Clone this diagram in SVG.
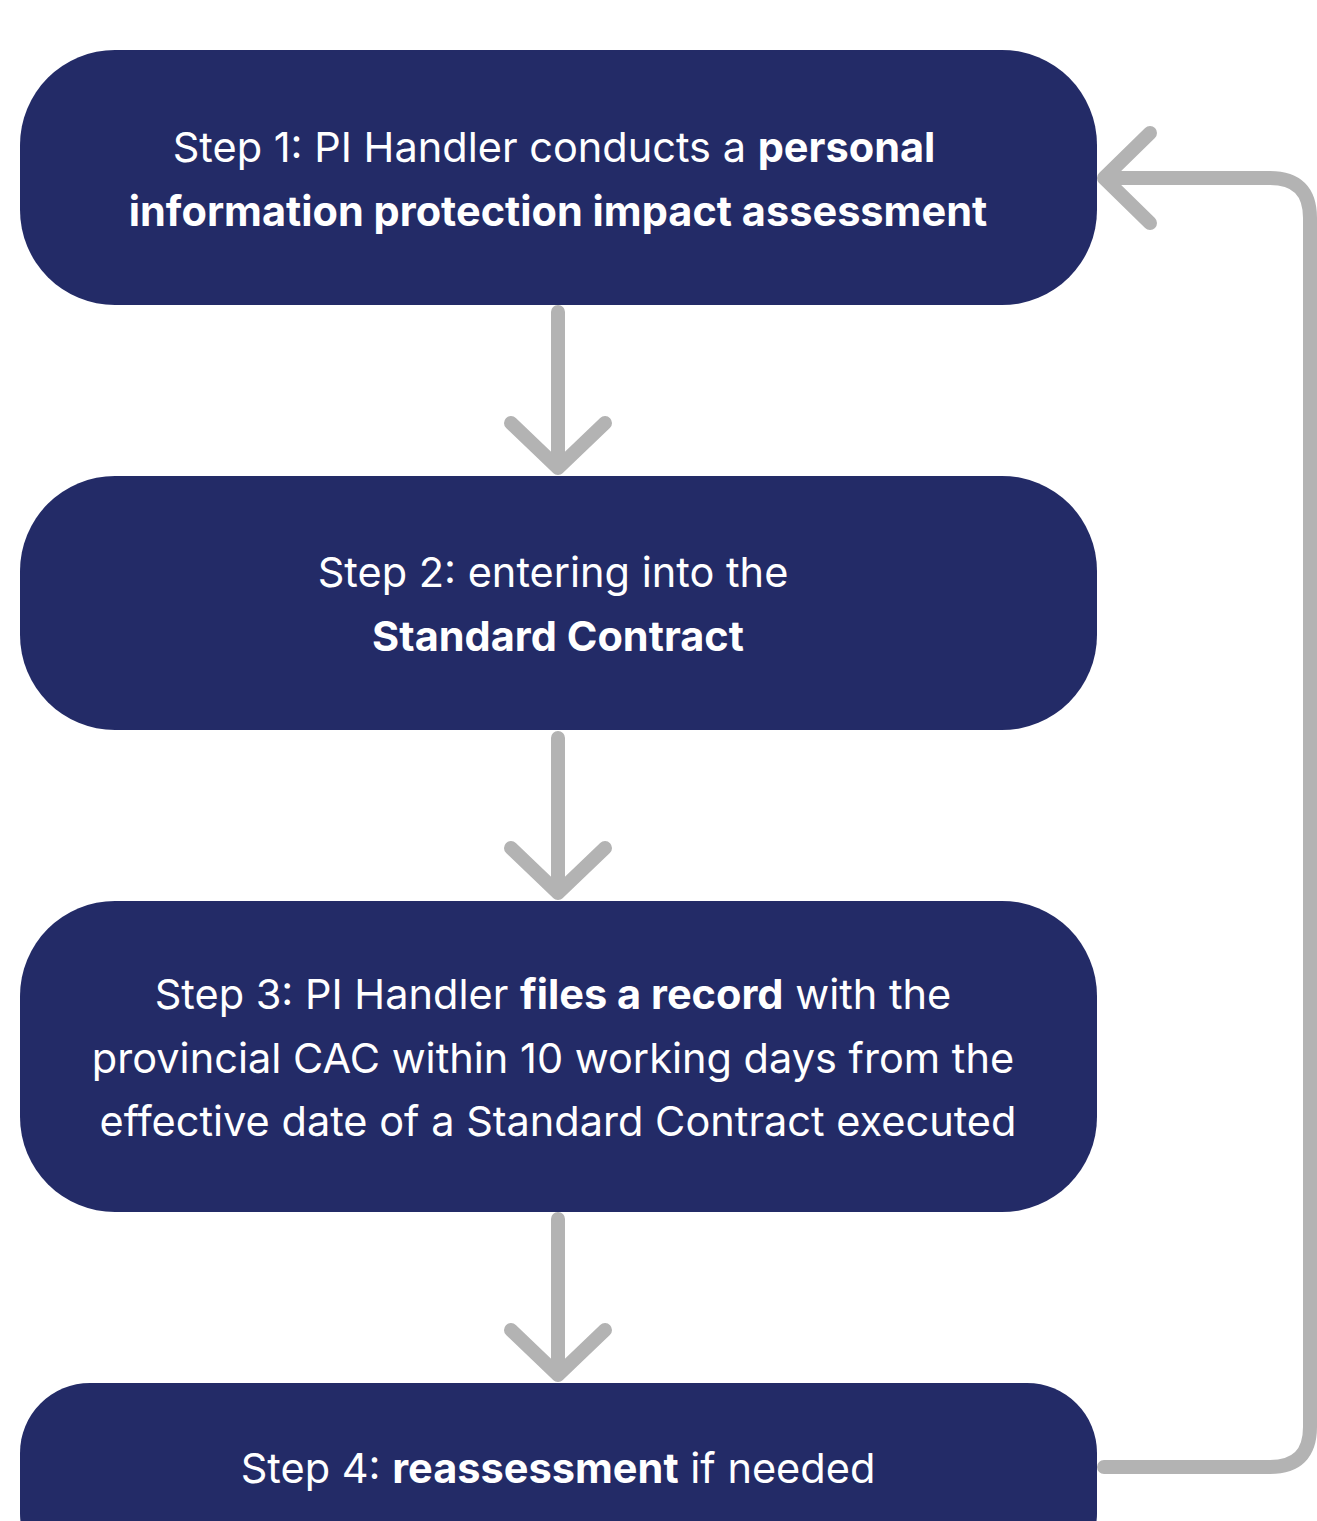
<svg xmlns="http://www.w3.org/2000/svg" width="1317" height="1521" viewBox="0 0 1317 1521">
<style>
.node{fill:#232B67}
.t{font-family:Inter,"Noto Sans","Liberation Sans",sans-serif;font-size:41.5px;fill:#ffffff;text-anchor:middle}
.b{font-weight:700}
.conn{fill:none;stroke:#B3B3B3;stroke-width:14;stroke-linecap:round;stroke-linejoin:round}
</style>
<rect width="1317" height="1521" fill="#ffffff"/>
<g id="connectors">
<path class="conn" d="M558 312 V468 M511 423 L558 468 L605 423"/>
<path class="conn" d="M558 738 V893 M511 848 L558 893 L605 848"/>
<path class="conn" d="M558 1219 V1375 M511 1330 L558 1375 L605 1330"/>
<path class="conn" d="M1104 1467 H1270 Q1310 1467 1310 1427 V218 Q1310 178 1270 178 H1104 M1150 133 L1104 178 L1150 223"/>
</g>
<g id="node1">
<rect class="node" x="20" y="50" width="1077" height="255" rx="95" ry="95"/>
<text class="t" x="554" y="162">Step 1: PI Handler conducts a <tspan class="b">personal</tspan></text>
<text class="t b" x="558" y="226">information protection impact assessment</text>
</g>
<g id="node2">
<rect class="node" x="20" y="476" width="1077" height="254" rx="95" ry="95"/>
<text class="t" x="553" y="587">Step 2: entering into the</text>
<text class="t b" x="558" y="651">Standard Contract</text>
</g>
<g id="node3">
<rect class="node" x="20" y="901" width="1077" height="311" rx="95" ry="95"/>
<text class="t" x="553" y="1009">Step 3: PI Handler <tspan class="b">files a record</tspan> with the</text>
<text class="t" x="553" y="1073">provincial CAC within 10 working days from the</text>
<text class="t" x="558" y="1136">effective date of a Standard Contract executed</text>
</g>
<g id="node4">
<rect class="node" x="20" y="1383" width="1077" height="200" rx="70" ry="70"/>
<text class="t" x="558" y="1483">Step 4: <tspan class="b">reassessment</tspan> if needed</text>
</g>
</svg>
